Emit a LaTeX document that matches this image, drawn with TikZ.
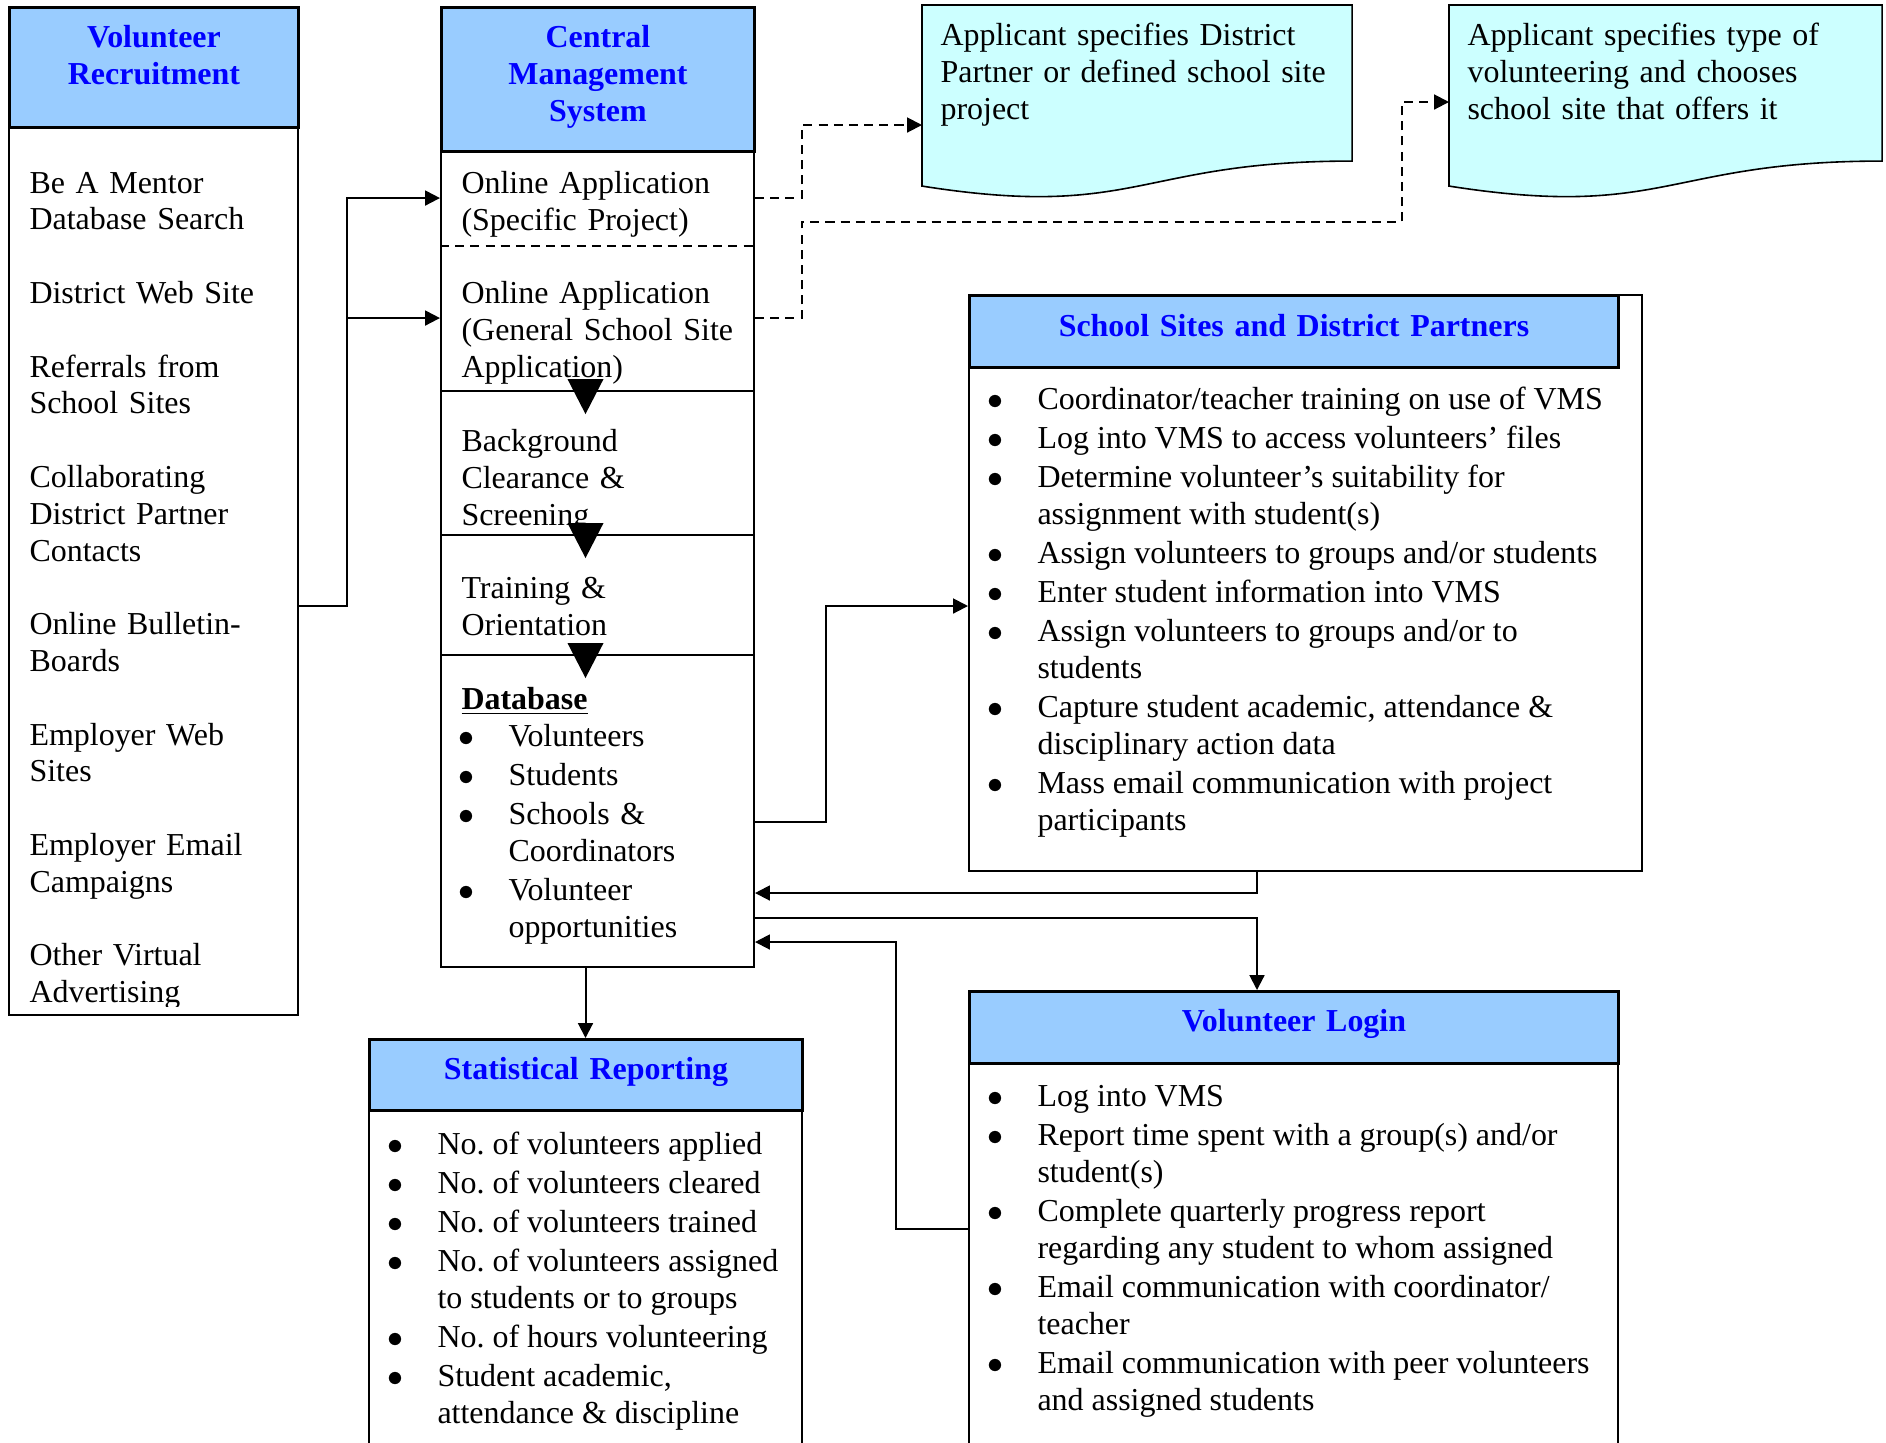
\documentclass[tikz,border=0pt]{standalone}
\usepackage{fontspec}
\setmainfont{Liberation Serif}
\usepackage{tikz}
\usetikzlibrary{arrows.meta,backgrounds,calc}
\definecolor{headfill}{HTML}{99CCFF}
\definecolor{headtext}{HTML}{0000FF}
\definecolor{docfill}{HTML}{CCFFFF}
\newlength{\px}
\setlength{\px}{0.0132cm}
\newcommand{\vmsfont}{\fontsize{12pt}{13.82pt}\selectfont\frenchspacing}
\newenvironment{dotlist}{%
  \begin{list}{\makebox[0pt][c]{$\bullet$}}{%
    \setlength{\leftmargin}{47\px}\setlength{\labelwidth}{0pt}%
    \setlength{\labelsep}{42\px}\setlength{\itemsep}{2.4\px}%
    \setlength{\parsep}{0pt}\setlength{\topsep}{0pt}%
    \setlength{\partopsep}{0pt}\setlength{\itemindent}{0pt}}}%
  {\end{list}}

\begin{document}
\begin{tikzpicture}[x=0.0132cm, y=-0.0132cm,
  every node/.style={font=\vmsfont, inner sep=0pt},
  panel/.style={draw, line width=0.75pt, fill=white, anchor=north west},
  head/.style={draw, line width=1.1pt, fill=headfill, text=headtext,
    font=\vmsfont\bfseries, align=center, anchor=north west},
  body/.style={align=left},
  page/.style={draw, line width=0.6pt, fill=docfill},
  link/.style={line width=0.75pt, -{Triangle[length=5.6pt,width=5.6pt]}},
  dashlink/.style={link, dash pattern=on 3.4pt off 2.3pt}]
\useasboundingbox (0,0) rectangle (1886,1442);
\clip (0,0) rectangle (1886,1442);

\node[panel, minimum width=289\px, minimum height=1008\px] (recruit) at (8,6) {};
\node[head, text width=289\px, text height=40\px, text depth=80\px] (recruitHead) at (8,6) {Volunteer\\Recruitment};
\begin{scope}
\clip (recruit.north west) rectangle ([yshift=10\px]recruit.south east);
\node[body, anchor=base west, text width=262\px] (channels) at (29,193) {Be A Mentor\\Database Search\\[13.82pt]
District Web Site\\[13.82pt]
Referrals from\\School Sites\\[13.82pt]
Collaborating\\District Partner\\Contacts\\[13.82pt]
Online Bulletin-\\Boards\\[13.82pt]
Employer Web\\Sites\\[13.82pt]
Employer Email\\Campaigns\\[13.82pt]
Other Virtual\\Advertising};
\end{scope}

\node[panel, minimum width=313\px, minimum height=960\px] (cms) at (440,6) {};
\node[head, text width=313\px, text height=40\px, text depth=104\px] (cmsHead) at (440,6) {Central\\Management\\System};
\node[body, anchor=north west, text width=290\px, text height=43\px, text depth=52\px] (appSpec) at (461,150) {Online Application\\(Specific Project)};
\node[body, anchor=north west, text width=290\px, text height=58\px, text depth=87\px] (appGen) at (461,245) {Online Application\\(General School Site\\Application)};
\node[body, anchor=north west, text width=290\px, text height=61\px, text depth=83\px] (clearance) at (461,390) {Background\\Clearance \&\\Screening};
\node[body, anchor=north west, text width=290\px, text height=64\px, text depth=56\px] (training) at (461,534) {Training \&\\Orientation};
\node[body, anchor=north west, text width=290\px, text height=55\px, text depth=257\px] (database) at (461,654) {\underline{\textbf{Database}}\par
\begin{dotlist}
\item Volunteers
\item Students
\item Schools \&\\Coordinators
\item Volunteer\\opportunities
\end{dotlist}};

\node[body, anchor=north west, inner xsep=18\px, text width=393\px, text height=40\px, text depth=115\px] (docA) at (922,5) {Applicant specifies District\\Partner or defined school site\\project};
\node[body, anchor=north west, inner xsep=18\px, text width=396\px, text height=40\px, text depth=115\px] (docB) at (1449,5) {Applicant specifies type of\\volunteering and chooses\\school site that offers it};
\begin{scope}[on background layer]
\foreach \d in {docA,docB}
  \filldraw[page] (\d.north west) -- (\d.north east) -- (\d.south east)
    .. controls (\d.south) and ([yshift=-59\px]\d.south) .. ([yshift=-25\px]\d.south west) -- cycle;
\end{scope}

\node[panel, minimum width=673\px, minimum height=576\px] (schools) at (968,294) {};
\node[head, text width=649\px, text height=41\px, text depth=31\px] (schoolsHead) at (968,294) {School Sites and District Partners};
\node[anchor=base west] (schoolTasks) at (990,409) {\begin{minipage}[t]{640\px}\raggedright
\begin{dotlist}
\item Coordinator/teacher training on use of VMS
\item Log into VMS to access volunteers’ files
\item Determine volunteer’s suitability for\\assignment with student(s)
\item Assign volunteers to groups and/or students
\item Enter student information into VMS
\item Assign volunteers to groups and/or to\\students
\item Capture student academic, attendance \&\\disciplinary action data
\item Mass email communication with project\\participants
\end{dotlist}\end{minipage}};

\node[panel, minimum width=649\px, minimum height=470\px] (login) at (968,990) {};
\node[head, text width=649\px, text height=40\px, text depth=32\px] (loginHead) at (968,990) {Volunteer Login};
\node[anchor=base west] (loginTasks) at (990,1106) {\begin{minipage}[t]{620\px}\raggedright
\begin{dotlist}
\item Log into VMS
\item Report time spent with a group(s) and/or\\student(s)
\item Complete quarterly progress report\\regarding any student to whom assigned
\item Email communication with coordinator/\\teacher
\item Email communication with peer volunteers\\and assigned students
\end{dotlist}\end{minipage}};

\node[panel, minimum width=433\px, minimum height=420\px] (stats) at (368,1038) {};
\node[head, text width=433\px, text height=40\px, text depth=31\px] (statsHead) at (368,1038) {Statistical Reporting};
\node[anchor=base west] (statsItems) at (390,1154) {\begin{minipage}[t]{400\px}\raggedright
\begin{dotlist}
\item No. of volunteers applied
\item No. of volunteers cleared
\item No. of volunteers trained
\item No. of volunteers assigned\\to students or to groups
\item No. of hours volunteering
\item Student academic,\\attendance \& discipline
\end{dotlist}\end{minipage}};

\draw[line width=0.75pt, dash pattern=on 3.4pt off 2.3pt] (cms.west |- appSpec.south) -- (cms.east |- appSpec.south);
\foreach \s in {appGen,clearance,training}
  \draw[line width=0.75pt] (cms.west |- \s.south) -- (cms.east |- \s.south);
\foreach \s in {appGen,clearance,training}
  \fill (stats.north |- \s.south) ++(-18,-12) -- ++(36,0) -- ++(-18,35) -- cycle;

\draw[link] ([yshift=-95\px]recruit.east) -- ++(48,0) |- (cms.west |- appSpec.west);
\draw[link] ([yshift=-95\px]recruit.east) -- ++(48,0) |- (cms.west |- appGen.west);
\draw[dashlink] (cms.east |- appSpec.east) -- ++(47,0) |- ([yshift=-120\px]docA.north west);
\draw[dashlink] (cms.east |- appGen.east) -- ++(47,0) -- ++(0,-96.5) -- ++(600,0) |- ([yshift=-97\px]docB.north west);
\draw[link] ([yshift=-816\px]cms.north east) -- ++(71,0) |- ([yshift=-312\px]schools.north west);
\draw[link] ([xshift=289\px]schools.south west) |- ([yshift=-887\px]cms.north east);
\draw[link] ([yshift=-912\px]cms.north east) -| ([xshift=289\px]login.north west);
\draw[link] ([yshift=-239\px]login.north west) -- ++(-72,0) |- ([yshift=-936\px]cms.north east);
\draw[link] (stats.north |- cms.south) -- (stats.north);
\end{tikzpicture}
\end{document}
